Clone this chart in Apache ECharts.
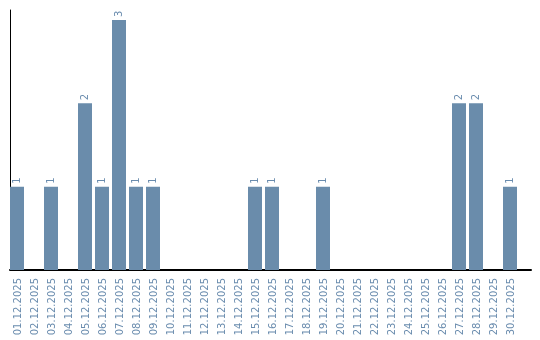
<!DOCTYPE html>
<html><head><meta charset="utf-8">
<script src="https://cdn.jsdelivr.net/npm/echarts@6/dist/echarts.min.js"></script>
<style>html,body{margin:0;padding:0;background:#fff}#c{width:540px;height:340px}</style>
</head><body><div id="c"></div>
<script>
const categories = ["01.12.2025","02.12.2025","03.12.2025","04.12.2025","05.12.2025","06.12.2025","07.12.2025","08.12.2025","09.12.2025","10.12.2025","11.12.2025","12.12.2025","13.12.2025","14.12.2025","15.12.2025","16.12.2025","17.12.2025","18.12.2025","19.12.2025","20.12.2025","21.12.2025","22.12.2025","23.12.2025","24.12.2025","25.12.2025","26.12.2025","27.12.2025","28.12.2025","29.12.2025","30.12.2025"];
const values = [1,0,1,0,2,1,3,1,1,0,0,0,0,0,1,1,0,0,1,0,0,0,0,0,0,0,2,2,0,1];
const spacer = categories.map(() => 0);
const barColor = '#6a8cab';
const textColor = '#6a8cae';
const chart = echarts.init(document.getElementById('c'), null, {renderer:'canvas'});
chart.setOption({
  animation: false,
  grid: [
    {left:10, top:10, width:510, height:260},
    {left:10, top:10, width:521, height:260}
  ],
  xAxis: [
    {type:'category', data:categories, gridIndex:0,
     axisLine:{show:false}, axisTick:{show:false},
     axisLabel:{rotate:90, interval:0, color:textColor, fontSize:10, fontFamily:'DejaVu Sans', margin:8}},
    {type:'value', gridIndex:1, min:0, max:1, axisLine:{show:true, lineStyle:{color:'#000', width:2}},
     axisTick:{show:false}, axisLabel:{show:false}, splitLine:{show:false}}
  ],
  yAxis: [
    {type:'value', gridIndex:0, min:0, max:3.12, axisLine:{show:true, onZero:false, lineStyle:{color:'#000', width:1}},
     axisTick:{show:false}, axisLabel:{show:false}, splitLine:{show:false}},
    {type:'value', gridIndex:1, min:0, max:1, show:false}
  ],
  series: [
    {type:'bar', data:values.map(v => v === 0 ? null : v), xAxisIndex:0, yAxisIndex:0, barWidth:14, barGap:0,
     itemStyle:{color:barColor},
     label:{show:true, position:'top', rotate:90, align:'left', verticalAlign:'middle', distance:3,
            color:textColor, fontSize:10, fontFamily:'DejaVu Sans'}},
    {type:'bar', data:spacer, xAxisIndex:0, yAxisIndex:0, barWidth:3, barGap:0, itemStyle:{color:'rgba(0,0,0,0)'}, silent:true}
  ]
});
</script></body></html>
